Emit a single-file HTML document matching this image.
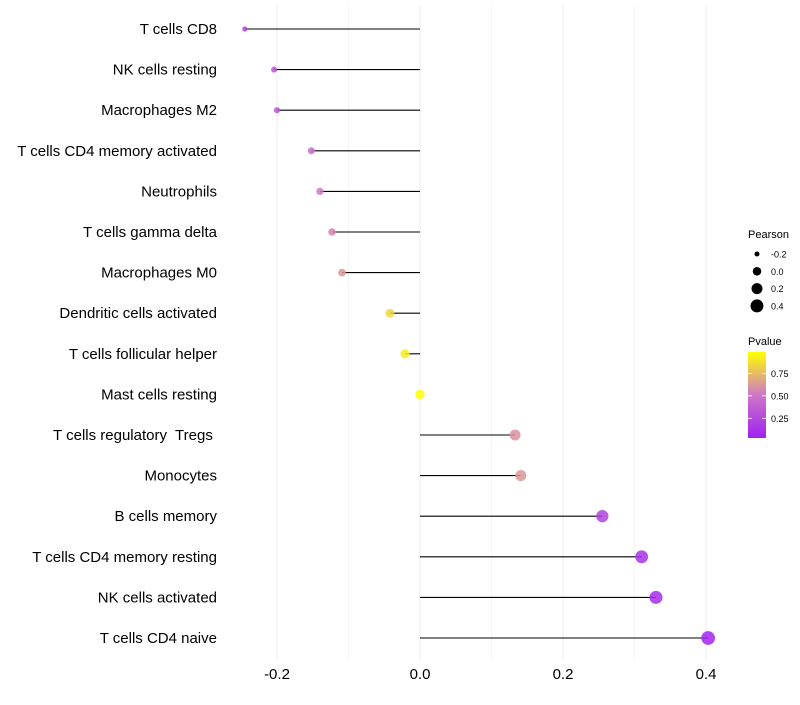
<!DOCTYPE html>
<html><head><meta charset="utf-8"><style>
body{margin:0;background:#fff;font-family:"Liberation Sans",sans-serif}
text{white-space:pre}
</style></head><body>
<svg id="chart" width="800" height="700" xmlns="http://www.w3.org/2000/svg"></svg>
<script>
const categories=["T cells CD8","NK cells resting","Macrophages M2","T cells CD4 memory activated","Neutrophils","T cells gamma delta","Macrophages M0","Dendritic cells activated","T cells follicular helper","Mast cells resting","T cells regulatory  Tregs ","Monocytes","B cells memory","T cells CD4 memory resting","NK cells activated","T cells CD4 naive"];
const pearson=[-0.245,-0.204,-0.2,-0.152,-0.14,-0.123,-0.109,-0.042,-0.021,0.0,0.133,0.141,0.255,0.31,0.33,0.403];
const pvalue=[0.2,0.3,0.3,0.45,0.5,0.55,0.62,0.85,0.93,0.99,0.6,0.62,0.2,0.1,0.08,0.03];
const xTicks=[-0.2,0,0.2,0.4];
const xTickLabels=["-0.2","0.0","0.2","0.4"];
const xMinor=[-0.1,0.1,0.3];
const sizeLegend=[-0.2,0,0.2,0.4];
const sizeLegendLabels=["-0.2","0.0","0.2","0.4"];
const pLegend=[0.25,0.5,0.75];
const pLegendLabels=["0.25","0.50","0.75"];

const NS="http://www.w3.org/2000/svg";
const svg=document.getElementById('chart');
const x=v=>420+v*715;
const y=i=>29+i*40.6;
const r=v=>Math.sqrt(Math.max(4,22+62*v));
const rl=v=>Math.sqrt(Math.max(2,18.2+59.6*v));
function lerp(a,b,t){return a.map((c,i)=>Math.round(c+(b[i]-c)*t));}
function col(p){
  const stops=[[0,[160,32,240]],[0.5,[206,120,200]],[1,[255,255,0]]];
  let t=Math.min(1,Math.max(0,p));
  for(let k=0;k<stops.length-1;k++){if(t<=stops[k+1][0]){const tt=(t-stops[k][0])/(stops[k+1][0]-stops[k][0]);const c=lerp(stops[k][1],stops[k+1][1],tt);return `rgb(${c[0]},${c[1]},${c[2]})`;}}
  return 'rgb(255,255,0)';
}
function mk(tag,attrs,text){const e=document.createElementNS(NS,tag);for(const k in attrs)e.setAttribute(k,attrs[k]);if(text!==undefined)e.textContent=text;svg.appendChild(e);return e;}

xMinor.forEach(v=>{const g=mk('line',{x1:x(v),x2:x(v),y1:5,y2:660,stroke:'#f5f5f5','stroke-width':1});

});
xTicks.forEach((v,i)=>{const g=mk('line',{x1:x(v),x2:x(v),y1:5,y2:660,stroke:'#ededed','stroke-width':1});


const t=mk('text',{x:x(v),y:679,'text-anchor':'middle','font-size':15,fill:'#000'},xTickLabels[i]);

});

categories.forEach((c,i)=>{
  const t=mk('text',{x:217,y:y(i)+5,'text-anchor':'end','font-size':15,fill:'#000'},c);
  
  
  const l=mk('line',{x1:x(0),x2:x(pearson[i]),y1:y(i),y2:y(i),stroke:'#000','stroke-width':1.1});
  
  
  const p=mk('circle',{cx:x(pearson[i]),cy:y(i),r:r(pearson[i]),fill:col(pvalue[i]),'fill-opacity':0.85});
  
  
});

let t=mk('text',{x:748,y:238,'font-size':11,fill:'#000'},'Pearson');


sizeLegend.forEach((v,i)=>{const cy=254+i*17.3;
const c=mk('circle',{cx:757,cy:cy,r:rl(v),fill:'#000'});


const tt=mk('text',{x:771,y:cy+3.5,'font-size':9,fill:'#000'},sizeLegendLabels[i]);

});

t=mk('text',{x:748,y:345,'font-size':11,fill:'#000'},'Pvalue');


const defs=mk('defs',{});
const lg=document.createElementNS(NS,'linearGradient');lg.setAttribute('id','pg');lg.setAttribute('x1','0');lg.setAttribute('y1','1');lg.setAttribute('x2','0');lg.setAttribute('y2','0');
[[0,'rgb(160,32,240)'],[0.5,'rgb(206,120,200)'],[1,'rgb(255,255,0)']].forEach(s=>{const st=document.createElementNS(NS,'stop');st.setAttribute('offset',s[0]);st.setAttribute('stop-color',s[1]);lg.appendChild(st);});
defs.appendChild(lg);
const cb0=352,cb1=438,pv=v=>cb1-(v-0.03)/(0.99-0.03)*(cb1-cb0);
const bar=mk('rect',{x:748,y:cb0,width:18,height:cb1-cb0,fill:'url(#pg)'});


pLegend.forEach((v,i)=>{
const a=mk('line',{x1:748,x2:752,y1:pv(v),y2:pv(v),stroke:'#fff','stroke-width':0.8});


const b=mk('line',{x1:762,x2:766,y1:pv(v),y2:pv(v),stroke:'#fff','stroke-width':0.8});


const tt=mk('text',{x:771,y:pv(v)+3.5,'font-size':9,fill:'#000'},pLegendLabels[i]);

});
</script>
</body></html>
